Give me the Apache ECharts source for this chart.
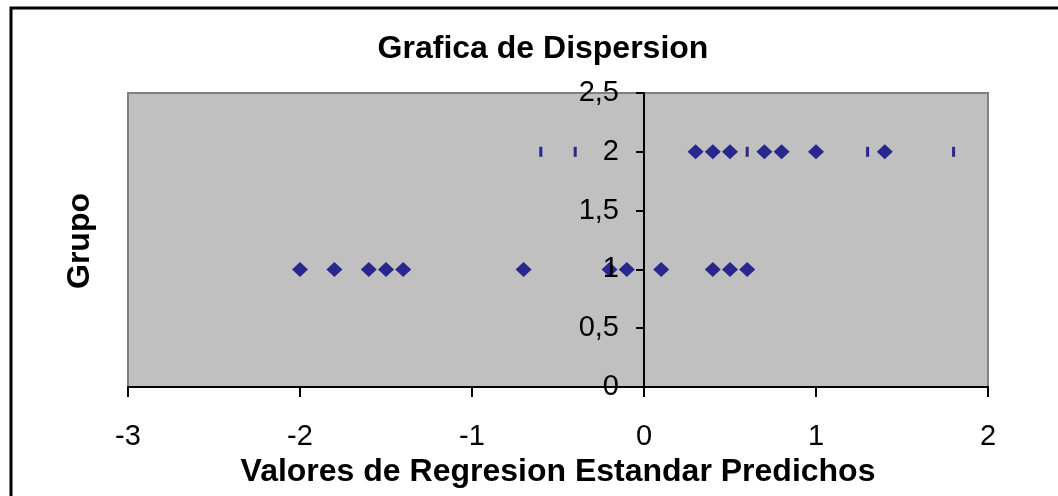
<!DOCTYPE html>
<html>
<head>
<meta charset="utf-8">
<script src="https://cdn.jsdelivr.net/npm/echarts@6/dist/echarts.min.js"></script>
<style>
html,body{margin:0;padding:0;background:#fff;}
#c{width:1058px;height:496px;}
</style>
</head>
<body>
<div id="c"></div>
<script>
// Data
const titleText = 'Grafica de Dispersion';
const xAxisTitle = 'Valores de Regresion Estandar Predichos';
const yAxisTitle = 'Grupo';
const grupo1X = [-2.0, -1.8, -1.6, -1.5, -1.4, -0.7, -0.2, -0.1, 0.1, 0.4, 0.5, 0.6];
const grupo1Y = [1, 1, 1, 1, 1, 1, 1, 1, 1, 1, 1, 1];
const grupo2X = [0.3, 0.4, 0.5, 0.7, 0.8, 1.0, 1.4];
const grupo2Y = [2, 2, 2, 2, 2, 2, 2];
const marcasX = [-0.6, -0.4, 0.6, 1.3, 1.8];
const marcasY = [2, 2, 2, 2, 2];
const xTicks = [-3, -2, -1, 0, 1, 2];
const yTicks = [0, 0.5, 1, 1.5, 2, 2.5];

const pair = (xs, ys) => xs.map((x, i) => [x, ys[i]]);
const FONT = '"Liberation Sans", Arial, sans-serif';

const GRID_LEFT = 128, GRID_RIGHT = 70;
const chartWidth = 1058;
const xMin = xTicks[0], xMax = xTicks[xTicks.length - 1];
// place the y axis where x = 0 (axis crosses at zero, as in the reference)
const yAxisOffset = -((0 - xMin) / (xMax - xMin)) * (chartWidth - GRID_LEFT - GRID_RIGHT);

const chart = echarts.init(document.getElementById('c'), null, {renderer: 'canvas'});
chart.setOption({
  animation: false,
  backgroundColor: '#ffffff',
  title: {
    text: titleText,
    left: 538,
    top: 28,
    textAlign: 'center',
    textStyle: {fontFamily: FONT, fontSize: 32, fontWeight: 'bold', color: '#000'}
  },
  grid: {
    left: GRID_LEFT, right: GRID_RIGHT, top: 93, bottom: 109,
    show: true,
    backgroundColor: '#C0C0C0',
    borderColor: '#808080',
    borderWidth: 2
  },
  xAxis: {
    type: 'value',
    min: xMin, max: xMax, interval: 1,
    name: xAxisTitle,
    nameLocation: 'middle',
    nameGap: 57,
    nameTextStyle: {fontFamily: FONT, fontSize: 32, fontWeight: 'bold', color: '#000'},
    axisLine: {show: true, onZero: false, lineStyle: {color: '#000', width: 2}},
    axisTick: {show: true, inside: false, length: 10, lineStyle: {color: '#000', width: 2}},
    axisLabel: {fontFamily: FONT, fontSize: 29, color: '#000', margin: 35},
    splitLine: {show: false}
  },
  yAxis: {
    type: 'value',
    z: 5,
    min: yTicks[0], max: yTicks[yTicks.length - 1], interval: 0.5,
    offset: yAxisOffset,
    axisLine: {show: true, onZero: false, lineStyle: {color: '#000', width: 2}},
    axisTick: {show: true, inside: false, length: 8, lineStyle: {color: '#000', width: 2}},
    axisLabel: {
      fontFamily: FONT, fontSize: 29, color: '#000', margin: 25,
      formatter: v => String(v).replace('.', ',')
    },
    splitLine: {show: false}
  },
  graphic: [
    {
      type: 'rect', silent: true, z: 100,
      shape: {x: 11, y: 8, width: 1200, height: 800},
      style: {fill: 'none', stroke: '#000', lineWidth: 3}
    },
    {
      type: 'text', silent: true,
      x: 80, y: 241, rotation: Math.PI / 2,
      style: {
        text: yAxisTitle, fontFamily: FONT, fontSize: 32, fontWeight: 'bold',
        fill: '#000', align: 'center', verticalAlign: 'middle'
      }
    }
  ],
  series: [
    {
      name: 'Grupo 1', type: 'scatter', symbol: 'diamond', symbolSize: [16, 15],
      itemStyle: {color: '#000080'}, data: pair(grupo1X, grupo1Y), z: 2
    },
    {
      name: 'Grupo 2', type: 'scatter', symbol: 'diamond', symbolSize: [16, 15],
      itemStyle: {color: '#000080'}, data: pair(grupo2X, grupo2Y), z: 2
    },
    {
      name: 'Marcas', type: 'scatter', symbol: 'rect', symbolSize: [3, 10],
      itemStyle: {color: '#000080'}, data: pair(marcasX, marcasY), z: 2
    }
  ]
});
</script>
</body>
</html>
